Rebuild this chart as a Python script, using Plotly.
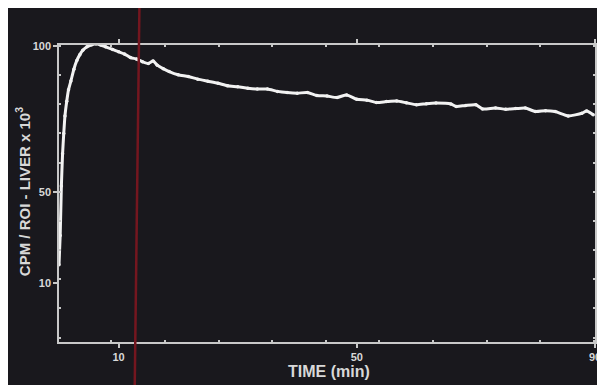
import plotly.graph_objects as go

# Time (min) and counts (CPM/ROI - liver x 10^3, axis units as drawn)
time_min = [0.0, 0.2, 0.4, 0.6, 0.8, 1.0, 1.3, 1.6, 2.0, 2.5, 3.0, 3.5, 4.0, 4.7,
            5.5, 6.2, 7.0, 7.8, 9.0, 10.0, 11.0, 12.0, 13.0, 14.0, 15.0, 15.8,
            16.5, 17.5, 18.5, 20.0, 21.7, 23.3, 25.0, 26.7, 28.3, 30.0, 31.7,
            33.3, 35.0, 36.7, 38.3, 40.0, 41.7, 43.3, 45.0, 46.7, 48.3, 50.0,
            51.7, 53.3, 55.0, 56.7, 58.3, 60.0, 61.7, 63.3, 65.8, 66.7, 68.3,
            70.0, 71.1, 73.3, 75.0, 76.7, 78.3, 80.0, 81.7, 83.3, 85.5, 87.8,
            88.6, 89.7]
counts = [25, 35, 52, 63, 70, 76, 81, 85, 88, 92, 95, 97, 98.5, 99.7,
          100.4, 100.7, 100.3, 99.7, 98.8, 98.0, 97.2, 96.0, 95.5, 94.6, 94.0, 94.8,
          93.4, 92.2, 91.2, 90.1, 89.5, 88.6, 87.9, 87.2, 86.3, 86.0, 85.5,
          85.2, 85.2, 84.4, 84.0, 83.8, 84.0, 83.0, 82.8, 82.3, 83.2, 81.7,
          81.4, 80.6, 80.9, 81.1, 80.5, 79.8, 80.2, 80.4, 80.1, 79.2, 79.6,
          79.8, 78.4, 78.7, 78.3, 78.5, 78.7, 77.5, 77.8, 77.5, 76.0, 76.9,
          77.7, 76.4]

x_tick_vals = [10, 50, 90]
x_tick_text = ["10", "50", "90"]
y_tick_vals = [18.8, 50, 100]
y_tick_text = ["10", "50", "100"]
marker_time = 13.1

BG = "#19181d"
FG = "#d8d8d8"
AX = "#c8c8c8"
L, R, T, B = 51, 15, 37, 51
W, H = 605, 385
PW, PH = W - L - R, H - T - B

fig = go.Figure()
fig.add_trace(go.Scatter(
    x=time_min, y=counts, mode="lines+markers",
    line=dict(color="#f2f2f2", width=3, shape="spline", smoothing=0.6),
    marker=dict(color="#f2f2f2", size=3.5),
    showlegend=False, hoverinfo="skip"))

# red vertical marker line spanning the whole photo height
fig.add_shape(type="line", xref="x", yref="paper",
              x0=marker_time + 0.4, x1=marker_time - 0.4,
              y0=1 + T / PH, y1=-B / PH,
              line=dict(color="#74161f", width=2.5), layer="above")

tick_font = dict(family="Liberation Sans, Arial, sans-serif", size=11, color=FG)
fig.update_xaxes(range=[0, 90], tickvals=x_tick_vals,
                 ticktext=[f"<b>{t}</b>" for t in x_tick_text],
                 showgrid=False, zeroline=False, showline=True,
                 linecolor=AX, linewidth=1.5, mirror="allticks",
                 ticks="outside", ticklen=4, tickwidth=1.5, tickcolor=AX,
                 tickfont=tick_font,
                 minor=dict(tick0=8.8, dtick=9, ticks="inside", ticklen=2,
                            tickwidth=2, tickcolor=AX, showgrid=False))
fig.update_yaxes(range=[-1.5, 100.3], tickvals=y_tick_vals,
                 ticktext=[f"<b>{t}</b>" for t in y_tick_text],
                 showgrid=False, zeroline=False, showline=True,
                 linecolor=AX, linewidth=1.5, mirror="allticks",
                 ticks="outside", ticklen=4, tickwidth=1.5, tickcolor=AX,
                 tickfont=tick_font,
                 minor=dict(tick0=0, dtick=10, ticks="inside", ticklen=2,
                            tickwidth=2, tickcolor=AX, showgrid=False))

fig.add_annotation(text="<b>TIME (min)</b>", xref="paper", yref="paper",
                   x=(323 - L) / PW, y=1 - (363 - T) / PH, showarrow=False,
                   font=dict(family="Liberation Sans, Arial, sans-serif", size=16, color=FG),
                   xanchor="center", yanchor="middle")
fig.add_annotation(text="<b>CPM / ROI - LIVER x 10<sup>3</sup></b>", xref="paper", yref="paper",
                   x=(14 - L) / PW, y=1 - (184 - T) / PH, showarrow=False, textangle=-90,
                   font=dict(family="Liberation Sans, Arial, sans-serif", size=15, color=FG),
                   xanchor="center", yanchor="middle")

fig.update_layout(width=W, height=H, margin=dict(l=L, r=R, t=T, b=B),
                  paper_bgcolor=BG, plot_bgcolor=BG)
fig.write_html("out.html")
